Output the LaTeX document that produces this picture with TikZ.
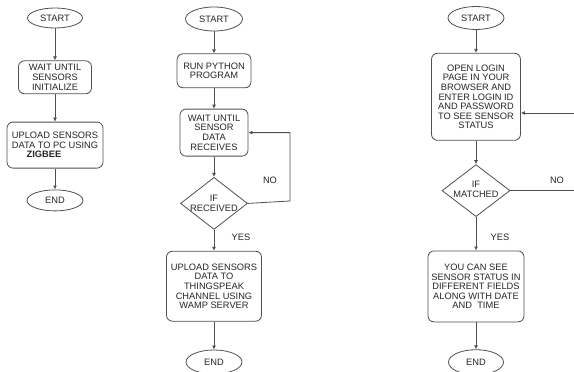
\documentclass[tikz,border=0pt]{standalone}
\usepackage{fontspec}
\setmainfont{Liberation Sans}
\usetikzlibrary{arrows.meta,positioning,shapes.geometric}
\definecolor{Line}{HTML}{505050}
\definecolor{Ink}{HTML}{262626}
\tikzset{
 term/.style={draw=Line,ellipse,fill=white,text=Ink,font=\fontsize{9.3}{9.6}\selectfont,inner sep=0pt,line width=0.8pt},
 proc/.style={draw=Line,rounded corners=6pt,fill=white,text=Ink,align=center,font=\fontsize{9.3}{9.6}\selectfont,inner sep=0pt,line width=0.8pt},
 cond/.style={draw=Line,diamond,fill=white,inner sep=0pt,line width=0.8pt},
 lbl/.style={text=Ink,align=center,font=\fontsize{9.3}{9.6}\selectfont},
 arr/.style={-{Latex[length=4pt,width=4pt]},line width=0.8pt,draw=Line}
}
\begin{document}
\begin{tikzpicture}[x=1pt,y=1pt]
\useasboundingbox[fill=white] (0,0) rectangle (574,-372);
% first chart
\node[term,minimum width=55pt,minimum height=20pt] (s1) at (55,-18) {START};
\node[proc,minimum width=73pt,minimum height=33pt,below=32pt of s1] (w1) {WAIT UNTIL\\SENSORS\\INITIALIZE};
\node[proc,minimum width=96pt,minimum height=46pt,below=27.5pt of w1] (u1) {UPLOAD SENSORS\\DATA TO PC USING\\\textbf{ZIGBEE}\hspace*{22pt}};
\node[term,minimum width=56pt,minimum height=21pt,below=21pt of u1] (e1) {END};
\draw[arr] (s1)--(w1);\draw[arr] (w1)--(u1);\draw[arr] (u1)--(e1);
% second chart
\node[term,minimum width=57pt,minimum height=24pt] (s2) at (214,-19) {START};
\node[proc,minimum width=74pt,minimum height=34pt,below=22pt of s2] (r2) {RUN PYTHON\\PROGRAM};
\node[proc,minimum width=68pt,minimum height=47pt,below=20.5pt of r2] (w2) {WAIT UNTIL\\SENSOR\\DATA\\RECEIVES};
\node[cond,minimum width=67pt,minimum height=52pt,below=20.5pt of w2] (d2) {};
\node[lbl] (t2) at (d2) {IF\\RECEIVED};
\node[proc,minimum width=95pt,minimum height=70pt,below=21pt of d2] (u2) {UPLOAD SENSORS\\DATA TO\\THINGSPEAK\\CHANNEL USING\\WAMP SERVER};
\node[term,minimum width=56pt,minimum height=24pt,below=28pt of u2] (e2) {END};
\coordinate (n2) at (290,-201);
\draw[arr] (s2)--(r2);\draw[arr] (r2)--(w2);\draw[arr] (w2)--(d2);
\draw[arr] (d2)--(u2);\draw[arr] (u2)--(e2);
\draw[arr] (d2.east)--(n2)|-(w2.east);
\node[lbl] (no2) at (270,-180) {NO};
\node[lbl] (yes2) at (241,-237) {YES};
% third chart
\node[term,minimum width=56pt,minimum height=23pt] (s3) at (476,-18) {START};
\node[proc,minimum width=89pt,minimum height=87pt,below=23pt of s3] (o3) {OPEN LOGIN\\PAGE IN YOUR\\BROWSER AND\\ENTER LOGIN ID\\AND PASSWORD\\TO SEE SENSOR\\STATUS};
\node[cond,minimum width=68pt,minimum height=52pt,below=23.5pt of o3] (d3) {};
\node[lbl] (t3) at ([yshift=1.5pt]d3) {IF\\MATCHED};
\node[proc,minimum width=96pt,minimum height=71pt,below=33.5pt of d3] (y3) {YOU CAN SEE\\SENSOR STATUS IN\\DIFFERENT FIELDS\\ALONG WITH DATE\\AND\ \ TIME};
\node[term,minimum width=55pt,minimum height=25pt,below=27pt of y3] (e3) {END};
\coordinate (n3) at (592,-113);
\draw[arr] (s3)--(o3);\draw[arr] (o3)--(d3);\draw[arr] (d3)--(y3);\draw[arr] (y3)--(e3);
\draw[arr] (d3.east)-|(n3)--(o3.east |- n3);
\node[lbl] (no3) at (557,-180) {NO};
\node[lbl] (yes3) at (500,-237) {YES};
\end{tikzpicture}
\end{document}
